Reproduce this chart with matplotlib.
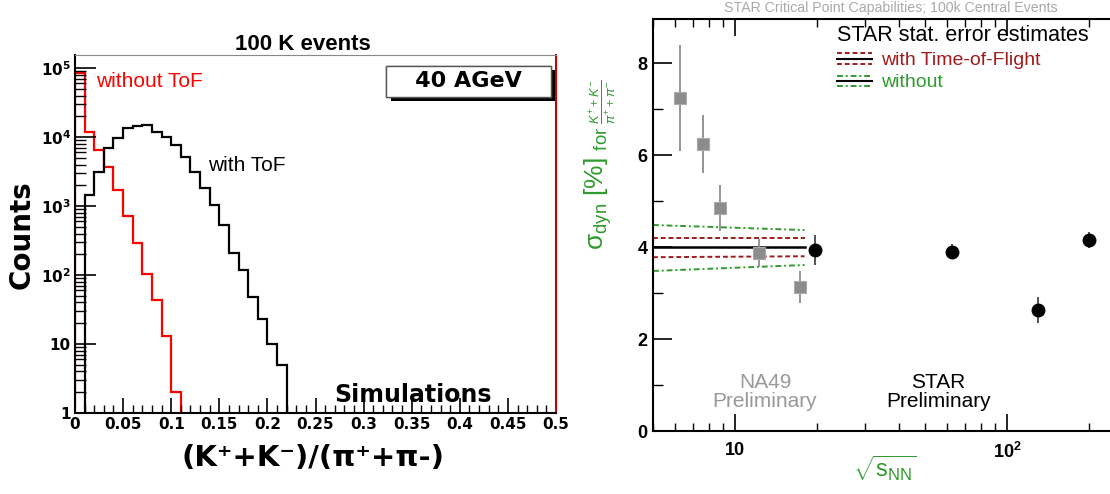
import matplotlib
matplotlib.use('Agg')
import matplotlib.pyplot as plt
import numpy as np
from matplotlib.legend_handler import HandlerBase
from matplotlib.lines import Line2D
import matplotlib.patheffects as pe

plt.rcParams['mathtext.fontset'] = 'custom'
plt.rcParams['mathtext.rm'] = 'Liberation Sans'
plt.rcParams['mathtext.it'] = 'Liberation Sans:italic'
plt.rcParams['mathtext.bf'] = 'Liberation Sans:bold'

# left panel: simulated (K+ + K-)/(pi+ + pi-) distributions, bin width 0.01
bin_width = 0.01
with_tof_start = 0.01
with_tof = [1440, 3100, 6900, 9700, 13500, 14500, 15000, 11800, 10000, 7600,
            5100, 3100, 1830, 1030, 530, 210, 118, 48, 23, 10, 5]
without_tof_start = 0.0
without_tof = [85000, 11800, 6600, 3700, 1700, 720, 290, 103, 43, 13, 2]
left_xticks = [0, 0.05, 0.1, 0.15, 0.2, 0.25, 0.3, 0.35, 0.4, 0.45, 0.5]
left_yticks = [1, 10, 100, 1000, 10000, 100000]
left_ylabels = ['1', '10', r'$\mathbf{10^{2}}$', r'$\mathbf{10^{3}}$',
                r'$\mathbf{10^{4}}$', r'$\mathbf{10^{5}}$']

# right panel: sigma_dyn vs sqrt(s_NN)
na49_energy = [6.3, 7.6, 8.8, 12.3, 17.3]
na49_sigma = [7.25, 6.25, 4.85, 3.87, 3.13]
na49_err = [1.15, 0.63, 0.5, 0.3, 0.35]
star_energy = [19.6, 62.4, 130, 200]
star_sigma = [3.93, 3.9, 2.63, 4.15]
star_err = [0.33, 0.17, 0.28, 0.17]
band_energy = [5, 18]
est_mean = [4.0, 4.0]
tof_upper = [4.2, 4.2]
tof_lower = [3.78, 3.8]
notof_upper = [4.48, 4.37]
notof_lower = [3.48, 3.61]

GREEN = '#2e9b2e'
DARKRED = '#a01c1c'
GRAY = '#8c8c8c'


class TripleLine(HandlerBase):
    # two outer lines in the handle's style with a solid black one in between
    def create_artists(self, legend, orig_handle, xdescent, ydescent,
                       width, height, fontsize, trans):
        out = []
        for frac, outer in ((0.05, True), (0.45, False), (0.85, True)):
            y = height * frac - ydescent
            ln = Line2D([-xdescent, width - xdescent], [y, y])
            if outer:
                ln.update_from(orig_handle)
            else:
                ln.set_color('black')
                ln.set_linewidth(1.5)
            ln.set_transform(trans)
            out.append(ln)
        return out


fig = plt.figure(figsize=(11.1, 4.94), dpi=100)

# ---------------- left panel ----------------
ax1 = fig.add_axes([75 / 1110, 1 - 413 / 494, 481 / 1110, 358 / 494])
e_tof = with_tof_start + bin_width * np.arange(len(with_tof) + 1)
e_no = without_tof_start + bin_width * np.arange(len(without_tof) + 1)
ax1.stairs(without_tof, e_no, baseline=1, color='red', lw=1.6)
ax1.stairs(with_tof, e_tof, baseline=1, color='black', lw=1.6)
ax1.set_yscale('log')
ax1.set_xlim(0, 0.5)
ax1.set_ylim(1, 1.55e5)
ax1.set_xticks(left_xticks)
ax1.set_xticklabels(['%g' % v for v in left_xticks])
ax1.set_xticks(np.arange(0, 0.5, 0.01), minor=True)
ax1.set_yticks(left_yticks)
ax1.set_yticklabels(left_ylabels)
ax1.tick_params(which='major', direction='in', length=11, width=1.2, pad=3)
ax1.tick_params(axis='y', which='major', length=15)
ax1.tick_params(which='minor', direction='in', length=6, width=1)
ax1.tick_params(axis='y', which='minor', length=8)
for lab in ax1.get_xticklabels() + ax1.get_yticklabels():
    lab.set_fontweight('bold')
    lab.set_fontsize(11)
    lab.set_family('DejaVu Sans')
    lab.set_math_fontfamily('dejavusans')
for s in ('left', 'bottom'):
    ax1.spines[s].set_linewidth(1.5)
ax1.spines['top'].set_color('#888888')
ax1.spines['right'].set_color('#cc0000')
ax1.spines['right'].set_linewidth(1.5)

ax1.text(0.043, 0.925, 'without ToF', color='red', fontsize=15,
         family='Liberation Sans', transform=ax1.transAxes, va='center')
ax1.text(0.277, 0.69, 'with ToF', color='black', fontsize=15,
         family='Liberation Sans', transform=ax1.transAxes, va='center')
ax1.text(0.54, 0.05, 'Simulations', fontsize=17, fontweight='bold',
         family='DejaVu Sans', transform=ax1.transAxes, va='center')
box = ax1.text(0.818, 0.927, '   40 AGeV   ', fontsize=16, fontweight='bold',
               family='DejaVu Sans', transform=ax1.transAxes,
               ha='center', va='center',
               bbox=dict(boxstyle='square,pad=0.25', fc='white', ec='#555555', lw=1))
box.get_bbox_patch().set_path_effects([
    pe.withSimplePatchShadow(offset=(3, -3), shadow_rgbFace='black', alpha=1),
    pe.Normal()])

fig.text(303 / 1110, 1 - 45 / 494, '100 K events', fontsize=16, fontweight='bold',
         family='Liberation Sans', ha='center', va='center')
fig.text(22 / 1110, 1 - 235 / 494, 'Counts', fontsize=20, fontweight='bold',
         family='DejaVu Sans', rotation=90, ha='center', va='center')
fig.text(313 / 1110, 1 - 458 / 494, '(K⁺+K⁻)/(π⁺+π-)', fontsize=21,
         fontweight='bold', family='DejaVu Sans', ha='center', va='center')

# ---------------- right panel ----------------
ax2 = fig.add_axes([653 / 1110, 1 - 431 / 494, 457 / 1110, 412 / 494])
ax2.set_xscale('log')
ax2.set_xlim(5, 238)
ax2.set_ylim(0, 8.96)

ax2.plot(band_energy, est_mean, color='black', lw=1.8)
tof_line, = ax2.plot(band_energy, tof_upper, color=DARKRED, lw=1.4, ls=(0, (2.5, 1.5)))
ax2.plot(band_energy, tof_lower, color=DARKRED, lw=1.4, ls=(0, (2.5, 1.5)))
notof_line, = ax2.plot(band_energy, notof_upper, color=GREEN, lw=1.4,
                       ls=(0, (3, 1.5, 1, 1.5)))
ax2.plot(band_energy, notof_lower, color=GREEN, lw=1.4, ls=(0, (3, 1.5, 1, 1.5)))

ax2.errorbar(na49_energy, na49_sigma, yerr=na49_err, fmt='s', color=GRAY,
             ecolor=GRAY, elinewidth=1.3, capsize=0, markersize=9,
             markeredgecolor='#aaaaaa', markeredgewidth=0.8)
ax2.errorbar(star_energy, star_sigma, yerr=star_err, fmt='o', color='black',
             ecolor='#444444', elinewidth=1.3, capsize=0, markersize=9)

ax2.set_xticks([10, 100])
ax2.set_xticklabels(['10', r'$\mathbf{10^{2}}$'])
ax2.set_yticks([0, 2, 4, 6, 8])
ax2.set_yticks([1, 3, 5, 7], minor=True)
ax2.tick_params(which='major', direction='in', length=12, width=1.2, top=True, pad=8)
ax2.tick_params(axis='y', which='major', length=14, pad=4)
ax2.tick_params(which='minor', direction='in', length=6, width=1, top=True)
ax2.tick_params(axis='y', which='minor', length=7)
for lab in ax2.get_xticklabels() + ax2.get_yticklabels():
    lab.set_fontweight('bold')
    lab.set_fontsize(13)
    lab.set_family('Liberation Sans')
for s in ('left', 'bottom', 'top'):
    ax2.spines[s].set_linewidth(1.5)
ax2.spines['right'].set_visible(False)

leg = ax2.legend([tof_line, notof_line], ['with Time-of-Flight', 'without'],
                 handler_map={tof_line: TripleLine(), notof_line: TripleLine()},
                 loc='upper left', bbox_to_anchor=(0.402, 0.985), frameon=False,
                 title='STAR stat. error estimates', alignment='left',
                 prop={'family': 'Liberation Sans', 'size': 14},
                 title_fontproperties={'family': 'Liberation Sans', 'size': 15.5},
                 handlelength=1.8, handletextpad=0.5, labelspacing=0.25,
                 borderaxespad=0, borderpad=0)
leg.get_texts()[0].set_color(DARKRED)
leg.get_texts()[1].set_color(GREEN)

ax2.text(0.245, 0.095, 'NA49\nPreliminary', color='#999999', fontsize=15,
         family='Liberation Sans', ha='center', va='center',
         linespacing=1.0, transform=ax2.transAxes)
ax2.text(0.625, 0.095, 'STAR\nPreliminary', color='black', fontsize=15,
         family='Liberation Sans', ha='center', va='center',
         linespacing=1.0, transform=ax2.transAxes)

fig.text(891 / 1110, 1 - 8 / 494,
         'STAR Critical Point Capabilities; 100k Central Events',
         color='#aaaaaa', fontsize=10.2, family='Liberation Sans',
         ha='center', va='center')
fig.text(600 / 1110, 1 - 165 / 494,
         r'σ$_{\rm dyn}$ [%] $_{{\rm for}\ \frac{K^{+}+K^{-}}{\pi^{+}+\pi^{-}}}$',
         color=GREEN, fontsize=19, family='Liberation Sans',
         rotation=90, ha='center', va='center')
fig.text(885 / 1110, 1 - 468 / 494, r'$\sqrt{\mathrm{s}_{\rm NN}}$', color=GREEN,
         fontsize=17, ha='center', va='center')

fig.savefig('out.png', dpi=100)
